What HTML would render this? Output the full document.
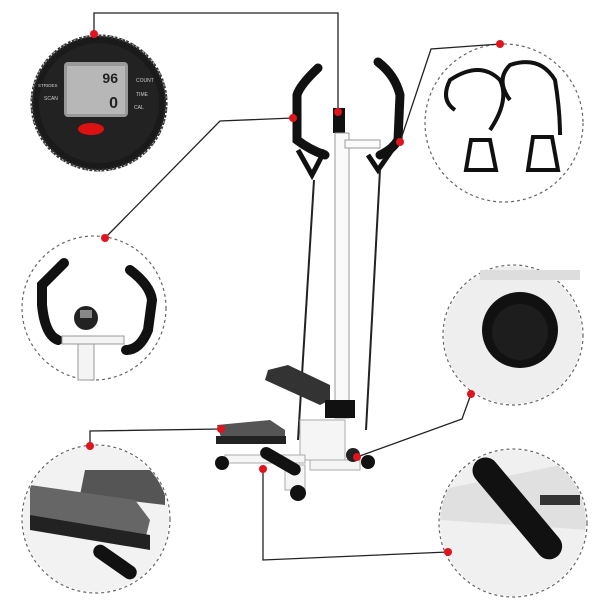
<!DOCTYPE html>
<html><head><style>html,body{margin:0;padding:0;background:#fff;width:600px;height:600px;overflow:hidden}</style></head>
<body>
<svg width="600" height="600" viewBox="0 0 600 600" xmlns="http://www.w3.org/2000/svg" font-family="Liberation Sans, sans-serif">
<rect width="600" height="600" fill="#fff"/>
<!-- dashed circles -->
<g fill="none" stroke="#666" stroke-width="1.2" stroke-dasharray="3,3">
<circle cx="99" cy="103" r="68"/>
<circle cx="504" cy="123" r="79"/>
<circle cx="94" cy="308" r="72"/>
<circle cx="513" cy="335" r="70"/>
<circle cx="96" cy="519" r="74"/>
<circle cx="513" cy="523" r="74"/>
</g>
<!-- display -->
<circle cx="99" cy="103" r="67" fill="#1a1a1a" stroke="#333" stroke-width="3" stroke-dasharray="2,2"/>
<circle cx="99" cy="103" r="60" fill="#222"/>
<rect x="64" y="62" width="64" height="55" rx="4" fill="#999"/>
<rect x="67" y="66" width="58" height="48" fill="#b7b7b7"/>
<text x="118" y="83" font-size="14" font-weight="bold" text-anchor="end" fill="#222">96</text>
<text x="118" y="108" font-size="16" font-weight="bold" text-anchor="end" fill="#222">0</text>
<text x="136" y="82" font-size="5" fill="#ccc">COUNT</text>
<text x="136" y="96" font-size="5" fill="#ccc">TIME</text>
<text x="134" y="109" font-size="5" fill="#ccc">CAL</text>
<text x="38" y="87" font-size="4.5" fill="#ccc">STRIDES</text>
<text x="44" y="100" font-size="5" fill="#ccc">SCAN</text>
<ellipse cx="91" cy="129" rx="13" ry="6" fill="#d11"/>
<!-- bands -->
<g fill="none" stroke="#111" stroke-width="4">
<path d="M455 110 Q440 100 450 80 Q480 60 500 80 Q510 100 490 130"/>
<path d="M510 100 Q495 80 510 65 Q540 55 555 80 Q560 110 560 135"/>
<path d="M466 170 L471 140 L490 140 L496 170 Z"/>
<path d="M528 170 L533 137 L552 137 L558 170 Z"/>
</g>
<!-- handlebar inset -->
<g fill="none" stroke="#111" stroke-width="10" stroke-linecap="round">
<path d="M64 263 L42 285 L42 305 Q45 335 58 340"/>
<path d="M130 270 Q150 285 152 300 L148 330 Q140 350 126 350"/>
</g>
<rect x="78" y="340" width="16" height="40" fill="#f4f4f4" stroke="#999"/>
<rect x="62" y="336" width="62" height="8" fill="#f4f4f4" stroke="#999"/>
<circle cx="86" cy="318" r="12" fill="#222"/>
<rect x="80" y="310" width="12" height="8" fill="#888"/>
<!-- knob inset -->
<circle cx="513" cy="335" r="69" fill="#eee"/>
<rect x="480" y="270" width="100" height="10" fill="#ddd"/>
<circle cx="520" cy="330" r="38" fill="#111"/>
<circle cx="520" cy="332" r="28" fill="#1d1d1d"/>
<!-- bottom left inset -->
<clipPath id="c1"><circle cx="96" cy="519" r="73"/></clipPath>
<g clip-path="url(#c1)">
<rect x="20" y="445" width="160" height="150" fill="#f2f2f2"/>
<polygon points="85,470 165,470 165,505 80,495" fill="#555"/>
<polygon points="30,485 135,500 150,520 145,540 30,520" fill="#666"/>
<polygon points="30,515 150,535 150,550 30,530" fill="#222"/>
<rect x="90" y="555" width="50" height="14" rx="7" fill="#111" transform="rotate(35 115 562)"/>
</g>
<!-- bottom right inset -->
<clipPath id="c2"><circle cx="513" cy="523" r="73"/></clipPath>
<g clip-path="url(#c2)">
<rect x="440" y="450" width="150" height="150" fill="#f0f0f0"/>
<polygon points="440,490 560,465 590,480 590,530 440,520" fill="#e0e0e0"/>
<rect x="455" y="495" width="125" height="26" rx="13" fill="#111" transform="rotate(50 517 508)"/>
<rect x="540" y="495" width="40" height="10" fill="#333"/>
</g>
<!-- machine -->
<g fill="none" stroke="#111" stroke-width="9" stroke-linecap="round">
<path d="M318 68 Q300 85 297 95 L297 140 Q310 150 325 155"/>
<path d="M378 62 Q395 75 400 95 L398 140 Q392 150 380 155"/>
</g>
<rect x="333" y="108" width="12" height="25" fill="#111"/>
<rect x="335" y="133" width="14" height="285" fill="#fafafa" stroke="#999"/>
<rect x="345" y="140" width="35" height="8" fill="#fafafa" stroke="#999"/>
<path d="M298 150 L312 175 L325 150" fill="none" stroke="#111" stroke-width="5"/>
<path d="M368 155 L378 170 L392 150" fill="none" stroke="#111" stroke-width="5"/>
<line x1="314" y1="180" x2="298" y2="440" stroke="#222" stroke-width="2"/>
<line x1="380" y1="170" x2="366" y2="430" stroke="#222" stroke-width="2"/>
<polygon points="268,370 288,365 330,385 330,400 320,405 265,380" fill="#333"/>
<polygon points="217,425 270,420 285,430 285,440 222,440" fill="#555"/>
<rect x="216" y="436" width="70" height="8" fill="#222"/>
<rect x="325" y="400" width="30" height="18" fill="#111"/>
<rect x="300" y="420" width="45" height="40" fill="#f5f5f5" stroke="#aaa"/>
<rect x="225" y="455" width="80" height="8" fill="#f5f5f5" stroke="#aaa"/>
<rect x="310" y="460" width="50" height="10" fill="#f5f5f5" stroke="#aaa"/>
<rect x="285" y="465" width="20" height="25" fill="#f5f5f5" stroke="#aaa"/>
<circle cx="222" cy="463" r="7" fill="#111"/>
<circle cx="298" cy="493" r="8" fill="#111"/>
<circle cx="368" cy="462" r="7" fill="#111"/>
<circle cx="353" cy="455" r="7" fill="#222"/>
<rect x="258" y="455" width="45" height="12" rx="6" fill="#111" transform="rotate(30 280 461)"/>
<!-- connectors -->
<g fill="none" stroke="#222" stroke-width="1.3">
<polyline points="94,34 94,13 338,13 338,112"/>
<polyline points="500,44 431,49 400,142"/>
<polyline points="105,238 220,121 293,118"/>
<polyline points="471,394 462,419 357,457"/>
<polyline points="90,446 90,431 221,429"/>
<polyline points="263,469 263,560 448,552"/>
</g>
<g fill="#e0141e">
<circle cx="94" cy="34" r="4"/><circle cx="338" cy="112" r="4"/>
<circle cx="500" cy="44" r="4"/><circle cx="400" cy="142" r="4"/>
<circle cx="105" cy="238" r="4"/><circle cx="293" cy="118" r="4"/>
<circle cx="471" cy="394" r="4"/><circle cx="357" cy="457" r="4"/>
<circle cx="90" cy="446" r="4"/><circle cx="221" cy="429" r="4"/>
<circle cx="263" cy="469" r="4"/><circle cx="448" cy="552" r="4"/>
</g>
</svg>
</body></html>
